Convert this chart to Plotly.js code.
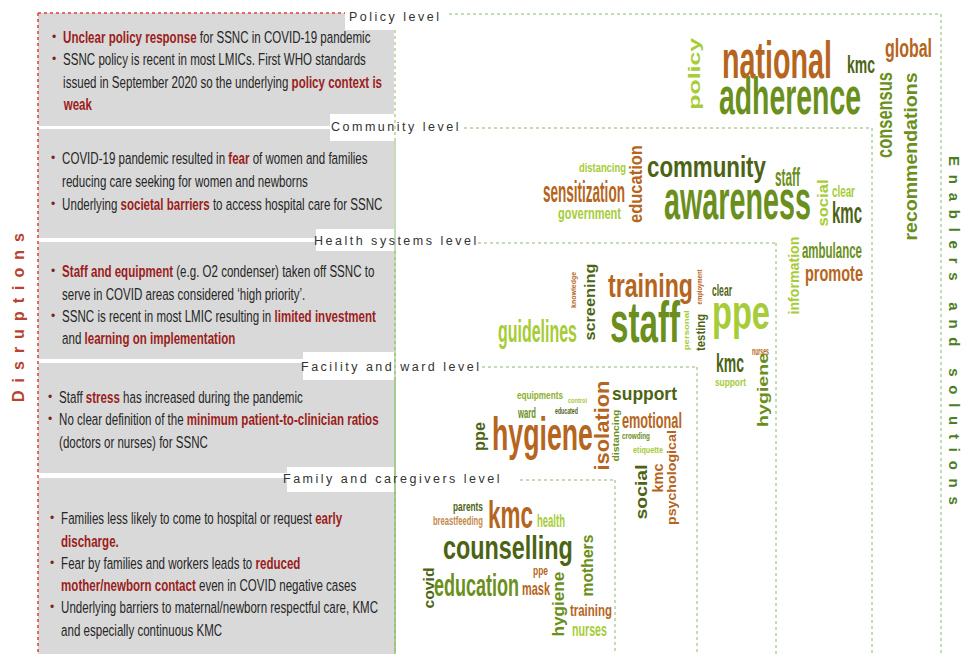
<!DOCTYPE html>
<html><head><meta charset="utf-8">
<script src="https://cdn.plot.ly/plotly-3.0.1.min.js"></script>
<style>html,body{margin:0;padding:0;background:#fff;} #chart{width:966px;height:654px;}</style>
</head><body><div id="chart"></div>
<script>
// ---------------- DATA ----------------
const levelNames = ["Policy level", "Community level", "Health systems level", "Facility and ward level", "Family and caregivers level"];

// disruption texts, one entry per printed line: [text, startsBullet]; [..] marks highlighted words
const policyLines = [
  ["[Unclear policy response] for SSNC in COVID-19 pandemic", true],
  ["SSNC policy is recent in most LMICs. First WHO standards", true],
  ["issued in September 2020 so the underlying [policy context is]", false],
  ["[weak]", false]
];
const communityLines = [
  ["COVID-19 pandemic resulted in [fear] of women and families", true],
  ["reducing care seeking for women and newborns", false],
  ["Underlying [societal barriers] to access hospital care for SSNC", true]
];
const healthLines = [
  ["[Staff and equipment] (e.g. O2 condenser) taken off SSNC to", true],
  ["serve in COVID areas considered \u2018high priority\u2019.", false],
  ["SSNC is recent in most LMIC resulting in [limited investment]", true],
  ["and [learning on implementation]", false]
];
const facilityLines = [
  ["Staff [stress] has increased during the pandemic", true],
  ["No clear definition of the [minimum patient-to-clinician ratios]", true],
  ["(doctors or nurses) for SSNC", false]
];
const familyLines = [
  ["Families less likely to come to hospital or request [early]", true],
  ["[discharge.]", false],
  ["Fear by families and workers leads to [reduced]", true],
  ["[mother/newborn contact] even in COVID negative cases", false],
  ["Underlying barriers to maternal/newborn respectful care, KMC", true],
  ["and especially continuous KMC", false]
];

// word-cloud words per level
const policyWords = ["policy", "national", "adherence", "kmc", "global", "consensus", "recommendations"];
const communityWords = ["distancing", "sensitization", "government", "education", "community", "awareness", "staff", "social", "clear", "kmc", "ambulance", "promote", "information"];
const healthWords = ["knowledge", "screening", "training", "staff", "guidelines", "employment", "personal", "testing", "clear", "ppe", "kmc", "nurses", "support", "hygiene"];
const facilityWords = ["equipments", "control", "ward", "educated", "ppe", "hygiene", "isolation", "distancing", "support", "emotional", "crowding", "etiquette", "social", "kmc", "psychological"];
const familyWords = ["parents", "breastfeeding", "kmc", "health", "counselling", "covid", "education", "ppe", "mask", "hygiene", "mothers", "training", "nurses"];

// ---------------- LAYOUT / STYLE ----------------
const COL = {LG: "#a6cc38", MG: "#6a8f1c", DG: "#4c6314", OR: "#b5651d", MG2: "#8bb02e", OR2: "#c48a4c"};
// placement per word: [ink centre x, ink centre y, length px, thickness px, angle, colour]
const policyPlace = [[696,74,72,15,-90,"LG"],[777,58,110,40,0,"OR"],[790,96,142,37,0,"MG"],[861,63,28,19,0,"DG"],[908,49,47,25,0,"OR"],[886,115,86,12,-90,"MG"],[910,156,168,14,-90,"MG"]];
const communityPlace = [[602,168,47,13,0,"LG"],[584,192,82,19,0,"OR"],[589,214,63,15,0,"LG"],[636,184,78,13,-90,"OR"],[707,169,119,28,0,"DG"],[737,204,147,31,0,"MG"],[787,177,25,17,0,"MG"],[822,203,47,11,-90,"LG"],[843,190,23,12,0,"LG"],[847,212,30,21,0,"DG"],[832,250,60,16,0,"MG"],[834,275,58,20,0,"OR"],[793,276,78,11,-90,"LG"]];
const healthPlace = [[575,290,36,8,-90,"OR"],[591,302,77,14,-90,"DG"],[650,287,85,33,0,"OR"],[645,322,70,41,0,"MG"],[537,333,79,29,0,"LG"],[700,287,35,6,-90,"OR"],[687,330,40,7,-90,"LG"],[702,332,37,11,-90,"DG"],[722,289,20,13,0,"DG"],[741,321,58,37,0,"LG"],[730,362,28,20,0,"DG"],[760,351,17,8,0,"OR"],[730,383,31,10,0,"LG"],[764,390,74,14,-90,"MG"]];
const facilityPlace = [[540,395,46,12,0,"MG2"],[577,400,19,5,0,"LG"],[526,412,18,10,0,"MG"],[566,411,23,7,0,"DG"],[482,437,29,12,-90,"DG"],[542,437,101,45,0,"OR"],[601,425,90,15,-90,"OR"],[616,436,52,9,-90,"MG"],[644,396,65,18,0,"DG"],[652,420,60,15,0,"OR"],[636,437,28,10,0,"MG"],[648,451,30,9,0,"LG"],[640,492,55,13,-90,"DG"],[657,478,29,11,-90,"OR"],[672,478,95,13,-90,"OR"]];
const familyPlace = [[468,507,30,12,0,"DG"],[458,522,50,12,0,"OR2"],[510,514,45,28,0,"OR"],[551,520,28,14,0,"LG"],[508,550,130,32,0,"DG"],[428,588,41,11,-90,"DG"],[476,584,85,23,0,"MG"],[540,572,15,11,0,"OR"],[536,589,28,13,0,"OR"],[560,604,65,14,-90,"MG"],[586,566,62,12,-90,"MG"],[591,611,42,15,0,"OR"],[589,630,35,12,0,"LG"]];

const boxes = [[13,126],[129,238],[242,359],[363,473],[478,654]];
const lineY = [[37,59,82,104],[158,181,204],[271,294,316,338],[397,419,442],[518,541,563,585,607,630]];
const textX = [61,60,60,57,59];
const labelBox = [[345,2,445,30],[330,114,460,141],[316,229,474,251],[303,352,478,380],[287,467,495,492]];
const labelPos = [[394,17],[394,127],[395,241],[390,367],[391,479]];
const greenH = [[449,14,941],[464,128,872],[478,243,776],[482,367,697],[520,480,615]];

const SANS = "'Liberation Sans', Arial, sans-serif";
const RED = "#9b1d20";
const GREEN_LINE = "#8cb86a";
const TEXT_SQUEEZE = 0.70;

// ---------------- BUILD ----------------
const shapes = [];
const annotations = [];
const post = []; // [annotation index, css transform, origin]

boxes.forEach(b => shapes.push({type:"rect", xref:"x", yref:"y", x0:38, x1:394, y0:b[0], y1:b[1], fillcolor:"#d9d9d9", line:{width:0}, layer:"below"}));
shapes.push({type:"line", xref:"x", yref:"y", x0:38, x1:345, y0:13, y1:13, line:{color:"#e03c3c", width:1.5, dash:"dot"}});
shapes.push({type:"line", xref:"x", yref:"y", x0:38, x1:38, y0:13, y1:654, line:{color:"#e03c3c", width:1.5, dash:"dot"}});
labelBox.forEach(b => shapes.push({type:"rect", xref:"x", yref:"y", x0:b[0], x1:b[2], y0:b[1], y1:b[3], fillcolor:"#ffffff", line:{width:0}}));
greenH.forEach((g, i) => {
  shapes.push({type:"line", xref:"x", yref:"y", x0:g[0], x1:g[2], y0:g[1], y1:g[1], line:{color:GREEN_LINE, width:1, dash:"dot"}});
  shapes.push({type:"line", xref:"x", yref:"y", x0:g[2], x1:g[2], y0:g[1], y1:654, line:{color:GREEN_LINE, width:1, dash:"dot"}});
  shapes.push({type:"line", xref:"x", yref:"y", x0:395, x1:395, y0:labelBox[i][3], y1:654, line:{color:GREEN_LINE, width:1, dash:"dot"}});
});

function fmt(s) { return s.replace(/\[([^\]]+)\]/g, '<b><span style="color:' + RED + '">$1</span></b>'); }
function spaced(s, sep) { return s.split("").join(sep); }

[policyLines, communityLines, healthLines, facilityLines, familyLines].forEach((lines, bi) => {
  lines.forEach((ln, li) => {
    const y = lineY[bi][li];
    post.push([annotations.length, "scaleX(" + TEXT_SQUEEZE + ")", "left center"]);
    annotations.push({xref:"x", yref:"y", x:textX[bi], y:y, xanchor:"left", yanchor:"middle", showarrow:false,
      text: fmt(ln[0]), font:{family:SANS, size:16.5, color:"#262626"}});
    if (ln[1]) annotations.push({xref:"x", yref:"y", x:textX[bi]-11, y:y, xanchor:"left", yanchor:"middle", showarrow:false,
      text:"\u2022", font:{family:SANS, size:12, color:"#7a2424"}});
  });
});

levelNames.forEach((n, i) => annotations.push({xref:"x", yref:"y", x:labelPos[i][0], y:labelPos[i][1], xanchor:"center", yanchor:"middle", showarrow:false,
  text: spaced(n, "\u2009"), font:{family:SANS, size:12.5, color:"#333333"}}));

annotations.push({xref:"x", yref:"y", x:18, y:318, xanchor:"center", yanchor:"middle", showarrow:false, textangle:-90,
  text:"<b>" + spaced("Disruptions", "\u2002") + "</b>", font:{family:SANS, size:16, color:"#b8432f"}});
annotations.push({xref:"x", yref:"y", x:955, y:330, xanchor:"center", yanchor:"middle", showarrow:false, textangle:90,
  text:"<b>" + spaced("Enablers and solutions", "\u2002\u200A") + "</b>", font:{family:SANS, size:15, color:"#4a7d24"}});

const cv = document.createElement("canvas").getContext("2d");
[[policyWords, policyPlace], [communityWords, communityPlace], [healthWords, healthPlace], [facilityWords, facilityPlace], [familyWords, familyPlace]].forEach(([words, place]) => {
  words.forEach((w, i) => {
    const p = place[i];
    cv.font = "bold 100px 'Liberation Sans', Arial, sans-serif";
    const size = p[2] / cv.measureText(w).width * 100;
    cv.font = "bold " + size + "px 'Liberation Sans', Arial, sans-serif";
    const m = cv.measureText(w);
    const ia = m.actualBoundingBoxAscent, id = m.actualBoundingBoxDescent;
    const fa = m.fontBoundingBoxAscent || size * 0.905, fd = m.fontBoundingBoxDescent || size * 0.212;
    const s = p[3] / (ia + id);
    const d = (id - ia) / 2 - (fd - fa) / 2; // ink centre below em-box centre
    let x = p[0], y = p[1];
    if (p[4] === 0) y -= s * d; else if (p[4] === -90) x -= s * d; else x += s * d;
    post.push([annotations.length, "scaleY(" + s.toFixed(3) + ")", "center"]);
    annotations.push({xref:"x", yref:"y", x:x, y:y, xanchor:"center", yanchor:"middle", showarrow:false, textangle:p[4],
      text:"<b>" + w + "</b>", font:{family:SANS, size:size, color:COL[p[5]]}});
  });
});

const layout = {
  width:966, height:654, margin:{l:0, r:0, t:0, b:0}, paper_bgcolor:"#fff", plot_bgcolor:"#fff",
  xaxis:{range:[0,966], visible:false, fixedrange:true},
  yaxis:{range:[654,0], visible:false, fixedrange:true},
  showlegend:false, shapes:shapes, annotations:annotations
};
Plotly.newPlot("chart", [], layout, {staticPlot:true, displayModeBar:false}).then(gd => {
  post.forEach(([i, tr, origin]) => {
    const g = gd.querySelector('g.annotation[data-index="' + i + '"]');
    if (!g) return;
    const t = g.querySelector("text.annotation-text");
    if (t) { t.style.transformBox = "fill-box"; t.style.transformOrigin = origin; t.style.transform = tr; }
  });
});
</script></body></html>
